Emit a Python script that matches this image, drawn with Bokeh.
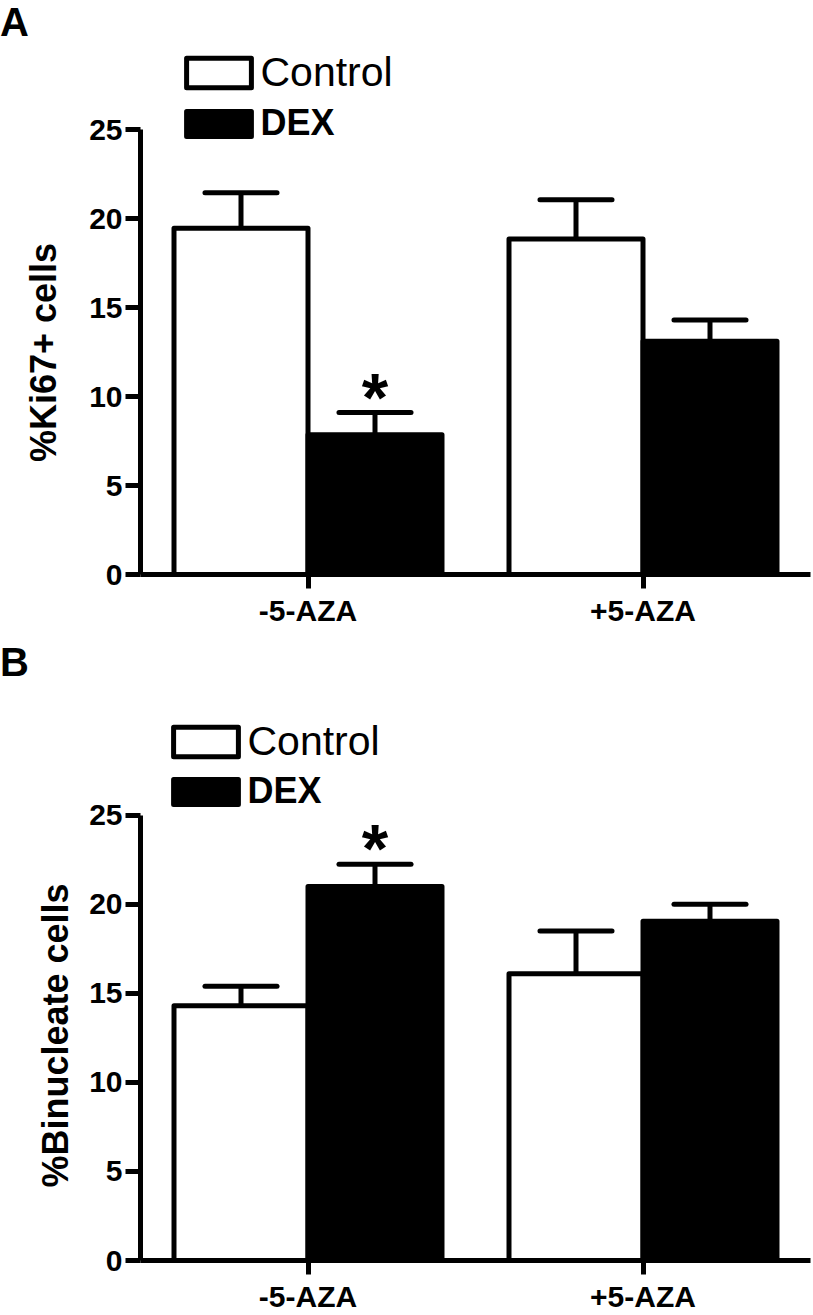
from bokeh.plotting import figure
from bokeh.models import (ColumnDataSource, FactorRange, Legend, LegendItem, Div,
                          FixedTicker)
from bokeh.transform import dodge
from bokeh.layouts import column
from bokeh.core.properties import value
from bokeh.embed import file_html
from bokeh.resources import INLINE

# ---------------- data ----------------
groups = ["-5-AZA", "+5-AZA"]
y_ticks = [0, 5, 10, 15, 20, 25]

ki67_control = [19.45, 18.85]
ki67_control_sem = [2.0, 2.2]
ki67_dex = [7.85, 13.1]
ki67_dex_sem = [1.25, 1.2]
ki67_sig = ["*", ""]

bin_control = [14.3, 16.1]
bin_control_sem = [1.1, 2.4]
bin_dex = [21.0, 19.05]
bin_dex_sem = [1.25, 0.95]
bin_sig = ["*", ""]

FONT = "Liberation Sans"
BAR_W = 0.4
CAP_W = 0.215
NBSP = "\u00a0"


def make_panel(ylabel, label_pad, ctrl, ctrl_sem, dex, dex_sem, sig, y_end, frame_h,
               leg_x, leg_y_ctrl, leg_y_dex, ylabel_standoff):
    src = ColumnDataSource(dict(
        cat=groups,
        ctrl=ctrl,
        dex=dex,
        ctrl_top=[v + e for v, e in zip(ctrl, ctrl_sem)],
        dex_top=[v + e for v, e in zip(dex, dex_sem)],
        sig=sig,
    ))
    p = figure(x_range=FactorRange(*groups, range_padding=0), y_range=(0, y_end),
               frame_width=670, frame_height=frame_h,
               min_border_left=140, min_border_right=3,
               min_border_top=0, min_border_bottom=55,
               output_backend="svg", toolbar_location=None,
               background_fill_color="white", border_fill_color="white")
    p.outline_line_color = None
    p.xgrid.grid_line_color = None
    p.ygrid.grid_line_color = None

    r_ctrl = p.vbar(x=dodge("cat", -BAR_W / 2, range=p.x_range), top="ctrl",
                    width=BAR_W, bottom=0, source=src, fill_color="white",
                    line_color="black", line_width=5, line_join="round")
    r_dex = p.vbar(x=dodge("cat", BAR_W / 2, range=p.x_range), top="dex",
                   width=BAR_W, bottom=0, source=src, fill_color="black",
                   line_color="black", line_width=5, line_join="round")

    # error bars (upper only)
    for off, base, top in ((-BAR_W / 2, "ctrl", "ctrl_top"), (BAR_W / 2, "dex", "dex_top")):
        xs = dodge("cat", off, range=p.x_range)
        p.segment(x0=xs, y0=base, x1=xs, y1=top, source=src,
                  line_color="black", line_width=5)
        p.segment(x0=dodge("cat", off - CAP_W / 2, range=p.x_range), y0=top,
                  x1=dodge("cat", off + CAP_W / 2, range=p.x_range), y1=top,
                  source=src, line_color="black", line_width=5, line_cap="round")

    # significance star
    p.text(x=dodge("cat", BAR_W / 2, range=p.x_range), y="dex_top", text="sig",
           source=src, text_font=value(FONT), text_font_style="bold",
           text_font_size="68px", text_align="center", text_baseline="alphabetic",
           y_offset=-16, text_color="black")

    # axes
    for ax in (p.xaxis[0], p.yaxis[0]):
        ax.axis_line_width = 5
        ax.axis_line_color = "black"
        ax.major_tick_line_width = 5
        ax.major_tick_line_color = "black"
        ax.major_tick_in = 0
        ax.minor_tick_line_color = None
        ax.major_label_text_font = FONT
        ax.major_label_text_font_style = "bold"
        ax.major_label_text_color = "black"
        ax.major_label_text_font_size = "30px"
    p.xaxis.major_tick_out = 14
    p.xaxis.major_label_standoff = 5
    p.yaxis.major_tick_out = 15
    p.yaxis.major_label_standoff = 3
    p.yaxis.bounds = (0, 25)
    p.yaxis.ticker = FixedTicker(ticks=y_ticks)
    # trailing no-break spaces keep the label centred on the 0-25 axis line
    p.yaxis.axis_label = ylabel + NBSP * label_pad
    p.yaxis.axis_label_text_font = FONT
    p.yaxis.axis_label_text_font_style = "bold"
    p.yaxis.axis_label_text_font_size = "36px"
    p.yaxis.axis_label_text_color = "black"
    p.yaxis.axis_label_standoff = ylabel_standoff

    # legends (two, for the different label styles)
    leg_c = Legend(items=[LegendItem(label="Control", renderers=[r_ctrl])],
                   location=(leg_x, leg_y_ctrl), padding=0, margin=0, spacing=0,
                   border_line_color=None, background_fill_alpha=0,
                   glyph_width=81, glyph_height=37, label_standoff=2,
                   label_text_font=FONT, label_text_font_size="41px",
                   label_text_color="black")
    leg_d = Legend(items=[LegendItem(label="DEX", renderers=[r_dex])],
                   location=(leg_x, leg_y_dex), padding=0, margin=0, spacing=0,
                   border_line_color=None, background_fill_alpha=0,
                   glyph_width=81, glyph_height=31, label_standoff=2,
                   label_text_font=FONT, label_text_font_style="bold",
                   label_text_font_size="36px", label_text_color="black")
    p.add_layout(leg_c)
    p.add_layout(leg_d)
    return p


def letter(txt, h, lh):
    return Div(text=txt, width=100, height=h,
               styles={"font-family": FONT, "font-weight": "bold",
                       "font-size": "40px", "line-height": f"{lh}px",
                       "color": "black", "margin": "0", "padding": "0"})


divA = letter("A", 40, 44)
pA = make_panel("%Ki67+ cells", 9, ki67_control, ki67_control_sem, ki67_dex,
                ki67_dex_sem, ki67_sig, y_end=30, frame_h=534,
                leg_x=37.5, leg_y_ctrl=478.5, leg_y_dex=430, ylabel_standoff=22)
divB = letter("B", 61, 66)
pB = make_panel("%Binucleate cells", 12, bin_control, bin_control_sem, bin_dex,
                bin_dex_sem, bin_sig, y_end=32, frame_h=570,
                leg_x=24.5, leg_y_ctrl=495.5, leg_y_dex=448, ylabel_standoff=10)

layout = column(divA, pA, divB, pB, spacing=0)
open("out.html", "w").write(file_html(layout, INLINE))
